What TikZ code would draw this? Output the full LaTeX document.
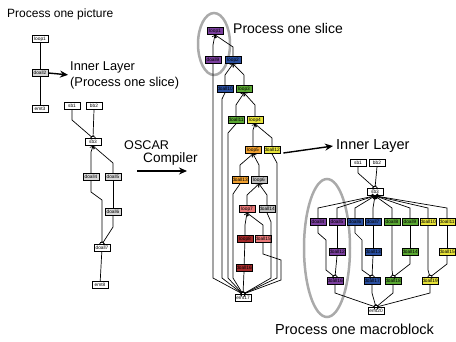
\documentclass[tikz,border=0pt]{standalone}
\usepackage{fontspec}
\setmainfont{Liberation Sans}
\usetikzlibrary{arrows.meta}
\definecolor{cpur}{HTML}{7B3F9F}
\definecolor{cblu}{HTML}{2A4FA0}
\definecolor{cgrn}{HTML}{5AA832}
\definecolor{cyel}{HTML}{E6E23A}
\definecolor{corg}{HTML}{F0A030}
\definecolor{cgry}{HTML}{BDBDBD}
\definecolor{cpnk}{HTML}{E87878}
\definecolor{cred}{HTML}{A52A2A}
\definecolor{cring}{HTML}{AAAAAA}
\tikzset{
  mt/.style={draw=black, line width=0.7pt, minimum width=16pt, minimum height=7pt,
    inner sep=0pt, font=\fontsize{4.8}{5}\selectfont, fill=#1},
  mt/.default=white,
  ln/.style={line width=0.7pt},
  fo/.style={ln, {Straight Barb[length=2pt,width=5pt]}-},
  fi/.style={ln, -{Straight Barb[length=2pt,width=5pt,reversed]}},
  lbl/.style={font=\fontsize{#1}{#1}\selectfont, inner sep=0pt, anchor=west},
  lbl/.default=13,
  bigarrow/.style={line width=1.4pt, -{Stealth[length=8pt,width=7pt]}},
  ring/.style={draw=cring, line width=2.5pt}
}
\begin{document}
\begin{tikzpicture}[x=1pt,y=-1pt]
\useasboundingbox (0,0) rectangle (456,341);

% ---------- outer layer: one picture ----------
\node[lbl=12] (tpic) at (7,14) {Process one picture};
\node[mt] (lloop1) at (40,39) {loop1};
\node[mt=black!15] (ldoall2) at (40,73) {doall2};
\node[mt] (lemt3) at (40,109) {emt3};
\draw[ln] (lloop1) -- (ldoall2);
\draw[ln] (ldoall2) -- (lemt3);

\node[lbl=12.8] (tinnerA) at (70,67) {Inner Layer};
\node[lbl=12.8] (tinnerB) at (70,83) {(Process one slice)};
\draw[bigarrow] (ldoall2.east) -- ([xshift=-2pt,yshift=2pt]tinnerB.north west);

% ---------- inner layer: one slice (before) ----------
\node[mt] (lsb1) at (72,106) {sb1};
\node[mt] (lbb2) at (94,106) {bb2};
\node[mt] (lsb3) at (93,142) {sb3};
\node[mt=black!15] (ldoall4) at (91,177) {doall4};
\node[mt=black!15] (ldoall5) at (113,177) {doall5};
\node[mt=black!15] (ldoall6) at (113,212) {doall6};
\node[mt] (ldoall7) at (102,248) {doall7};
\node[mt] (lemt8) at (100,285) {emt8};
\draw[fi] (lsb1.south) -- (72,120) -- (lsb3.north);
\draw[fi] (lbb2.south) -- (lsb3.north);
\draw[fo] (lsb3.south) -- (91,152) -- (ldoall4.north);
\draw[fo] (lsb3.south) -- (113,163) -- (ldoall5.north);
\draw[ln] (ldoall5) -- (ldoall6);
\draw[fi] (ldoall4.south) -- (91,192) -- (102,200) -- (ldoall7.north);
\draw[fi] (ldoall6.south) -- (113,227) -- (ldoall7.north);
\draw[ln] (ldoall7) -- (lemt8);

% ---------- compiler arrow ----------
\node[lbl=12.6] (toscar) at (124,145) {OSCAR};
\node[lbl=13.6] (tcomp) at (143,159) {Compiler};
\coordinate (ca) at (137,171);
\coordinate (cb) at (187,171);
\draw[bigarrow] (ca) -- (cb);

% ---------- middle: one slice after compilation ----------
\draw[ring] (214,44) ellipse [x radius=16, y radius=31];
\node[lbl=14] (tslice) at (233,28) {Process one slice};
\node[mt=cpur] (mloop1) at (215,31) {loop1};
\node[mt=cpur] (mdoall9) at (213,60) {doall9};
\node[mt=cblu] (mloop2) at (233,60) {loop2};
\node[mt=cblu] (mdoall10) at (225,89) {doall10};
\node[mt=cgrn] (mloop3) at (244,89) {loop3};
\node[mt=cgrn] (mdoall11) at (236,120) {doall11};
\node[mt=cyel] (mloop4) at (255,120) {loop4};
\node[mt=corg] (mloop5) at (253,150) {loop5};
\node[mt=cyel] (mdoall12) at (272,150) {doall12};
\node[mt=corg] (mdoall13) at (240,180) {doall13};
\node[mt=cgry] (mloop6) at (259,180) {loop6};
\node[mt=cpnk] (mloop7) at (247,209) {loop7};
\node[mt=cgry] (mdoall14) at (267,209) {doall14};
\node[mt=cred] (mloop8) at (245,239) {loop8};
\node[mt=cpnk] (mdoall15) at (263,239) {doall15};
\node[mt=cred] (mdoall16) at (244,268) {doall16};
\node[mt] (memt17) at (243,298) {emt17};

\draw[fo] (mloop1.south) -- (213,45) -- (mdoall9.north);
\draw[fo] (mloop1.south) -- (233,47) -- (mloop2.north);
\draw[fo] (mloop2.south) -- (225,75) -- (mdoall10.north);
\draw[fo] (mloop2.south) -- (244,75) -- (mloop3.north);
\draw[fo] (mloop3.south) -- (236,105) -- (mdoall11.north);
\draw[fo] (mloop3.south) -- (255,105) -- (mloop4.north);
\draw[fo] (mloop4.south) -- (253,130) -- (mloop5.north);
\draw[fo] (mloop4.south) -- (272,138) -- (mdoall12.north);
\draw[fo] (mloop5.south) -- (240,165) -- (mdoall13.north);
\draw[fo] (mloop5.south) -- (259,165) -- (mloop6.north);
\draw[fo] (mloop6.south) -- (247,195) -- (mloop7.north);
\draw[fo] (mloop6.south) -- (267,195) -- (mdoall14.north);
\draw[fo] (mloop7.south) -- (245,225) -- (mloop8.north);
\draw[fo] (mloop7.south) -- (263,225) -- (mdoall15.north);
\draw[ln] (mloop8) -- (mdoall16);
% doall tasks joining at the end marker
\draw[fi] (mdoall9.south) -- (213,278) -- (memt17.north);
\draw[fi] (mdoall10.south) -- (222,99) -- (222,278) -- (memt17.north);
\draw[fi] (mdoall11.south) -- (228,133) -- (228,278) -- (memt17.north);
\draw[fi] (mdoall13.south) -- (233,194) -- (233,278) -- (memt17.north);
\draw[fi] (mdoall12.south) -- (277,163) -- (277,278) -- (memt17.north);
\draw[fi] (mdoall14.south) -- (271,222) -- (271,278) -- (memt17.north);
\draw[fi] (mdoall15.south) -- (263,254) -- (281,260) -- (281,280) -- (memt17.north);
\draw[fi] (mdoall16.south) -- (memt17.north);

\node[lbl=14.5] (tinnerC) at (336,146) {Inner Layer};
\draw[bigarrow] ([xshift=3pt,yshift=-3pt]mdoall12.east) -- ([xshift=-3pt]tinnerC.west);

% ---------- inner layer: one slice split into macroblocks ----------
\draw[ring] (327,248) ellipse [x radius=23, y radius=69];
\node[mt] (rsb1) at (358,163) {sb1};
\node[mt] (rbb2) at (377,163) {bb2};
\node[mt] (rsb3) at (375,192) {sb3};
\node[mt=cpur] (rd4) at (318,222) {doall4};
\node[mt=cpur] (rd5) at (337,222) {doall5};
\node[mt=cblu] (rd6) at (355,222) {doall6};
\node[mt=cblu] (rd7) at (373,222) {doall7};
\node[mt=cgrn] (rd8) at (392,222) {doall8};
\node[mt=cgrn] (rd9) at (410,222) {doall9};
\node[mt=cyel] (rd10) at (428,222) {doall10};
\node[mt=cyel] (rd11) at (447,222) {doall11};
\node[mt=cpur] (rd12) at (337,252) {doall12};
\node[mt=cblu] (rd13) at (373,252) {doall13};
\node[mt=cgrn] (rd14) at (410,252) {doall14};
\node[mt=cyel] (rd15) at (447,252) {doall15};
\node[mt=cpur] (rd16) at (335,281) {doall16};
\node[mt=cblu] (rd17) at (372,281) {doall17};
\node[mt=cgrn] (rd18) at (393,281) {doall18};
\node[mt=cyel] (rd19) at (430,281) {doall19};
\node[mt] (remt20) at (376,311) {emt20};

\draw[fi] (rsb1.south) -- (358,173) -- (rsb3.north);
\draw[fi] (rbb2.south) -- (rsb3.north);
\foreach \n/\x in {rd4/318,rd5/337,rd6/355,rd7/373,rd8/392,rd9/410,rd10/428,rd11/447}
  \draw[fo] (rsb3.south) -- (\x,208) -- (\n.north);
\draw[ln] (rd5) -- (rd12);
\draw[ln] (rd7) -- (rd13);
\draw[ln] (rd9) -- (rd14);
\draw[ln] (rd11) -- (rd15);
\draw[fi] (rd4.south) -- (318,233) -- (326,240) -- (326,270) -- (rd16.north);
\draw[fi] (rd12.south) -- (rd16.north);
\draw[fi] (rd6.south) -- (355,233) -- (362,240) -- (362,270) -- (rd17.north);
\draw[fi] (rd13.south) -- (rd17.north);
\draw[fi] (rd8.south) -- (392,270) -- (rd18.north);
\draw[fi] (rd14.south) -- (410,264) -- (rd18.north);
\draw[fi] (rd10.south) -- (428,270) -- (rd19.north);
\draw[fi] (rd15.south) -- (447,264) -- (rd19.north);
\foreach \n/\x in {rd16/335,rd17/372,rd18/393,rd19/430}
  \draw[fi] (\n.south) -- (\x,293) -- (remt20.north);

\node[lbl=14.5] (tmb) at (275,329) {Process one macroblock};
\end{tikzpicture}
\end{document}
